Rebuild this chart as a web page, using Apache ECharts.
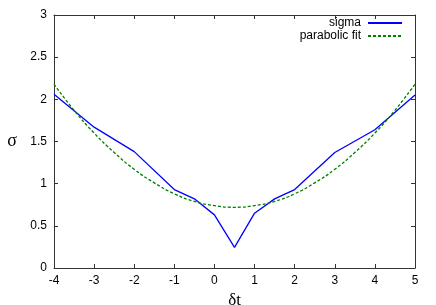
<!DOCTYPE html>
<html><head><meta charset="utf-8">
<script src="https://cdn.jsdelivr.net/npm/echarts@6/dist/echarts.min.js"></script>
<style>html,body{margin:0;padding:0;background:#fff}#c{width:436px;height:305px}</style>
</head><body><div id="c"></div>
<script>
const sigmaX = [-4, -3, -2, -1, -0.5, 0, 0.5, 1, 1.5, 2, 3, 4, 5];
const sigmaY = [2.06, 1.67, 1.38, 0.93, 0.82, 0.63, 0.245, 0.65, 0.82, 0.93, 1.37, 1.64, 2.05];
const fitX = [-4, -3.5, -3, -2.5, -2, -1.5, -1, -0.5, 0, 0.5, 1, 1.5, 2, 2.5, 3, 3.5, 4, 4.5, 5];
const fitY = [2.18, 1.87, 1.60, 1.37, 1.17, 1.01, 0.88, 0.79, 0.74, 0.72, 0.74, 0.79, 0.88, 1.01, 1.17, 1.37, 1.60, 1.87, 2.18];

const zip = (xs, ys) => xs.map((x, i) => [x, ys[i]]);
const font = 'Liberation Sans, Arial, sans-serif';
const axisLine = {show: true, onZero: false, lineStyle: {color: '#333', width: 1}};
const tick = {show: true, inside: true, length: 4, lineStyle: {color: '#333'}};

const chart = echarts.init(document.getElementById('c'), null, {renderer: 'canvas'});
chart.setOption({
  animation: false,
  grid: {left: 54, right: 21, top: 15, bottom: 37, containLabel: false, outerBoundsMode: 'none'},
  legend: {
    orient: 'vertical', right: 33, top: 17, align: 'right', padding: 0,
    itemWidth: 34, itemHeight: 11, itemGap: 1,
    itemStyle: {opacity: 0, borderWidth: 0},
    textStyle: {fontFamily: font, fontSize: 12, color: '#000', lineHeight: 11, padding: [0, 2, 0, 0]},
    data: ['sigma', 'parabolic fit']
  },
  xAxis: [{
    type: 'value', min: -4, max: 5, interval: 1, position: 'bottom',
    axisLine: axisLine, axisTick: tick, splitLine: {show: false},
    axisLabel: {fontFamily: font, fontSize: 12, color: '#000', margin: 7},
    name: 'δt', nameLocation: 'middle', nameGap: 22,
    nameTextStyle: {fontFamily: 'Liberation Serif, serif', fontSize: 17, color: '#000'}
  }, {
    type: 'value', min: -4, max: 5, interval: 1, position: 'top',
    axisLine: axisLine, axisTick: tick, splitLine: {show: false}, axisLabel: {show: false}
  }],
  yAxis: [{
    type: 'value', min: 0, max: 3, interval: 0.5, position: 'left',
    axisLine: axisLine, axisTick: tick, splitLine: {show: false},
    axisLabel: {fontFamily: font, fontSize: 12, color: '#000', margin: 7},
    name: 'σ', nameLocation: 'middle', nameGap: 37, nameRotate: 0,
    nameTextStyle: {fontFamily: 'Liberation Serif, serif', fontSize: 18, color: '#000'}
  }, {
    type: 'value', min: 0, max: 3, interval: 0.5, position: 'right',
    axisLine: axisLine, axisTick: tick, splitLine: {show: false}, axisLabel: {show: false}
  }],
  series: [{
    name: 'sigma', type: 'line', data: zip(sigmaX, sigmaY),
    showSymbol: false, symbol: 'none',
    lineStyle: {color: '#0000ff', width: 1.3}, itemStyle: {color: '#0000ff'}
  }, {
    name: 'parabolic fit', type: 'line', data: zip(fitX, fitY), smooth: true,
    showSymbol: false, symbol: 'none',
    lineStyle: {color: '#008000', width: 1.3, type: [3, 2]}, itemStyle: {color: '#008000'}
  }]
});
</script></body></html>
